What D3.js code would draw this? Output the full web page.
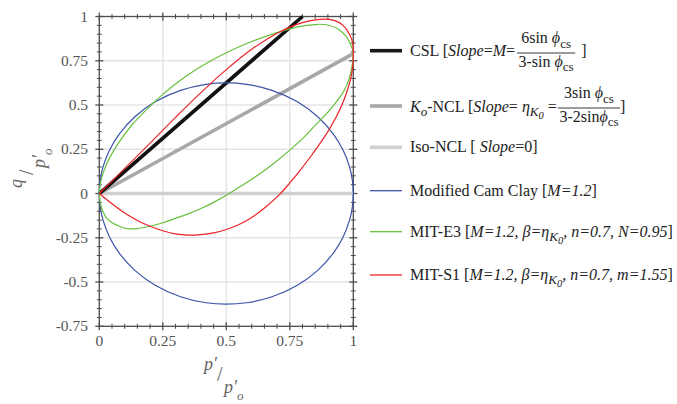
<!DOCTYPE html>
<html>
<head>
<meta charset="utf-8">
<script src="https://cdn.jsdelivr.net/npm/d3@7"></script>
<style>
  body { margin: 0; background: #fff; }
  svg text { font-family: "Liberation Serif", "DejaVu Serif", serif; white-space: pre; }
</style>
</head>
<body>
<svg id="svg"></svg>
<script>
// tick values and labels
const xTicks = [0, 0.25, 0.5, 0.75, 1];
const xTickLabels = ["0", "0.25", "0.5", "0.75", "1"];
const yTicks = [-0.75, -0.5, -0.25, 0, 0.25, 0.5, 0.75, 1];
const yTickLabels = ["-0.75", "-0.5", "-0.25", "0", "0.25", "0.5", "0.75", "1"];

// straight lines
const cslP = [0, 0.8];
const cslQ = [0, 1];
const k0P = [0, 1];
const k0Q = [0, 0.79];
const isoP = [0, 1];
const isoQ = [0, 0];

// Modified Cam Clay ellipse (going round)
const mccP = [0, 0.004, 0.015, 0.04, 0.08, 0.14, 0.22, 0.32, 0.42, 0.5, 0.58, 0.68, 0.78, 0.86, 0.92, 0.96, 0.985, 0.996,
              1, 0.996, 0.985, 0.96, 0.92, 0.86, 0.78, 0.68, 0.58, 0.5, 0.42, 0.32, 0.22, 0.14, 0.08, 0.04, 0.015, 0.004];
const mccQ = [0, 0.079, 0.152, 0.245, 0.339, 0.434, 0.518, 0.583, 0.617, 0.625, 0.617, 0.583, 0.518, 0.434, 0.339, 0.245, 0.152, 0.079,
              0, -0.079, -0.152, -0.245, -0.339, -0.434, -0.518, -0.583, -0.617, -0.625, -0.617, -0.583, -0.518, -0.434, -0.339, -0.245, -0.152, -0.079];

// MIT-E3 yield surface
const e3P = [0, 0.004, 0.015, 0.04, 0.08, 0.13, 0.19, 0.25, 0.31, 0.375, 0.44, 0.5, 0.56, 0.625, 0.69, 0.75, 0.81, 0.86, 0.9, 0.94, 0.97, 0.99,
             1, 0.995, 0.985, 0.965, 0.94, 0.9, 0.85, 0.8, 0.75, 0.7, 0.65, 0.6, 0.55, 0.5, 0.45, 0.4, 0.35, 0.3, 0.25, 0.2, 0.15, 0.11, 0.08, 0.05, 0.03, 0.015, 0.005];
const e3Q = [0, 0.055, 0.115, 0.2, 0.295, 0.39, 0.48, 0.56, 0.63, 0.695, 0.75, 0.795, 0.835, 0.872, 0.905, 0.93, 0.948, 0.956, 0.952, 0.93, 0.89, 0.84,
             0.79, 0.72, 0.655, 0.585, 0.53, 0.46, 0.385, 0.31, 0.245, 0.185, 0.13, 0.08, 0.035, -0.01, -0.05, -0.085, -0.115, -0.14, -0.165, -0.185, -0.198, -0.198, -0.185, -0.165, -0.14, -0.105, -0.06];

// MIT-S1 yield surface (corner at the origin)
const s1P = [0, 0.1, 0.2, 0.3, 0.4, 0.5, 0.6, 0.7, 0.75, 0.8, 0.85, 0.89, 0.93, 0.96, 0.985, 0.998, 1,
             0.998, 0.99, 0.975, 0.955, 0.93, 0.9, 0.865, 0.83, 0.79, 0.75, 0.71, 0.66, 0.6, 0.55, 0.5, 0.45, 0.4, 0.35, 0.3, 0.25, 0.2, 0.15, 0.1, 0.05, 0];
const s1Q = [0, 0.142, 0.285, 0.43, 0.57, 0.7, 0.815, 0.905, 0.94, 0.965, 0.981, 0.985, 0.975, 0.95, 0.9, 0.85, 0.79,
             0.72, 0.65, 0.575, 0.5, 0.425, 0.35, 0.275, 0.205, 0.13, 0.06, -0.005, -0.07, -0.135, -0.175, -0.203, -0.222, -0.232, -0.235, -0.228, -0.21, -0.185, -0.152, -0.11, -0.058, 0];

const zip = (a, b) => a.map((v, i) => [v, b[i]]);

const W = 677, H = 404;
const svg = d3.select("#svg").attr("width", W).attr("height", H);
svg.append("rect").attr("width", W).attr("height", H).attr("fill", "#fff");

const x = d3.scaleLinear().domain([0, 1]).range([99.3, 353.3]);
const y = d3.scaleLinear().domain([-0.75, 1]).range([326.3, 16.5]);

// grid
const grid = svg.append("g").attr("stroke", "#e4e4e4").attr("stroke-width", 1.4);
grid.selectAll(".gx").data(xTicks.slice(1, -1)).join("line")
    .attr("x1", d => x(d)).attr("x2", d => x(d)).attr("y1", y(1)).attr("y2", y(-0.75));
grid.selectAll(".gy").data(yTicks.slice(1, -1)).join("line")
    .attr("y1", d => y(d)).attr("y2", d => y(d)).attr("x1", x(0)).attr("x2", x(1));

// frame with ticks on all four sides
const frame = svg.append("g").attr("stroke", "#4d4d4d");
frame.append("rect").attr("x", x(0)).attr("y", y(1)).attr("width", x(1) - x(0)).attr("height", y(-0.75) - y(1))
    .attr("fill", "none").attr("stroke-width", 1.3);
const minorX = d3.range(0, 21).map(i => i / 20);
const minorY = d3.range(-15, 21).map(i => i / 20);
const isMajor = v => Math.abs(v * 4 - Math.round(v * 4)) < 1e-6;
[y(1), y(-0.75)].forEach(yy => {
  frame.append("g").selectAll("line").data(minorX).join("line")
      .attr("x1", d => x(d)).attr("x2", d => x(d))
      .attr("y1", d => yy - (isMajor(d) ? 4 : 2.5)).attr("y2", d => yy + (isMajor(d) ? 4 : 2.5))
      .attr("stroke-width", d => isMajor(d) ? 1.3 : 1);
});
[x(0), x(1)].forEach(xx => {
  frame.append("g").selectAll("line").data(minorY).join("line")
      .attr("y1", d => y(d)).attr("y2", d => y(d))
      .attr("x1", d => xx - (isMajor(d) ? 4 : 2.5)).attr("x2", d => xx + (isMajor(d) ? 4 : 2.5))
      .attr("stroke-width", d => isMajor(d) ? 1.3 : 1);
});

// tick labels
svg.append("g").selectAll("text").data(xTicks).join("text")
    .attr("x", d => x(d)).attr("y", 346).attr("text-anchor", "middle")
    .attr("font-size", 15.5).attr("fill", "#555").text((d, i) => xTickLabels[i]);
svg.append("g").selectAll("text").data(yTicks).join("text")
    .attr("x", 88).attr("y", d => y(d) + 5).attr("text-anchor", "end")
    .attr("font-size", 15.5).attr("fill", "#555").text((d, i) => yTickLabels[i]);

// axis titles (slanted fractions)
function slantFrac(g, top, bot, sub) {
  g.append("text").attr("x", 0).attr("y", 0).attr("font-size", 18).attr("font-style", "italic").text(top);
  g.append("text").attr("x", 13).attr("y", 11).attr("font-size", 20).text("/");
  g.append("text").attr("x", 20).attr("y", 23).attr("font-size", 18).attr("font-style", "italic").text(bot);
  g.append("text").attr("x", 33).attr("y", 30).attr("font-size", 13).attr("font-style", "italic").text(sub);
}
const xt = svg.append("g").attr("transform", "translate(204,370)").attr("fill", "#666");
slantFrac(xt, "p\u2032", "p\u2032", "o");
const yt = svg.append("g").attr("transform", "translate(22,188) rotate(-90)").attr("fill", "#666");
slantFrac(yt, "q", "p\u2032", "o");

// plotted lines
const line = d3.line().x(d => x(d[0])).y(d => y(d[1]));
const plot = svg.append("g").attr("fill", "none");
plot.append("path").datum(zip(isoP, isoQ)).attr("d", line).attr("stroke", "#d0d0d0").attr("stroke-width", 3.6);
plot.append("path").datum(zip(k0P, k0Q)).attr("d", line).attr("stroke", "#a8a8a8").attr("stroke-width", 3.6);
plot.append("path").datum(zip(cslP, cslQ)).attr("d", line).attr("stroke", "#111").attr("stroke-width", 3.6);

const closed = d3.line().x(d => x(d[0])).y(d => y(d[1])).curve(d3.curveCatmullRomClosed.alpha(0.5));
const open = d3.line().x(d => x(d[0])).y(d => y(d[1])).curve(d3.curveCatmullRom.alpha(0.5));
plot.append("path").datum(zip(mccP, mccQ)).attr("d", closed).attr("stroke", "#3b53a8").attr("stroke-width", 1.2);
plot.append("path").datum(zip(e3P, e3Q)).attr("d", closed).attr("stroke", "#68c03c").attr("stroke-width", 1.2);
plot.append("path").datum(zip(s1P, s1Q)).attr("d", open).attr("stroke", "#ec2227").attr("stroke-width", 1.2);

// legend
const ink = "#222";
const fs = 16;
function rich(parent, x0, y0, segs, size, anchor) {
  const t = parent.append("text").attr("x", x0).attr("y", y0).attr("font-size", size)
      .attr("fill", ink).attr("text-anchor", anchor || "start");
  let cur = 0;
  segs.forEach(s => {
    const lvl = s.sub || 0;
    const off = [0, 4.5, 7.5][lvl];
    t.append("tspan").attr("dy", off - cur).attr("font-size", size * [1, 0.82, 0.66][lvl])
        .attr("font-style", s.it ? "italic" : "normal").text(s.t);
    cur = off;
  });
  return t;
}
function frac(parent, x0, yBar, num, den) {
  const g = parent.append("g");
  const n = rich(g, 0, yBar - 10, num, fs, "start");
  const d = rich(g, 0, yBar + 13.5, den, fs, "start");
  const wn = n.node().getComputedTextLength(), wd = d.node().getComputedTextLength();
  const w = Math.max(wn, wd) + 3;
  n.attr("x", x0 + (w - wn) / 2);
  d.attr("x", x0 + (w - wd) / 2);
  g.append("line").attr("x1", x0).attr("x2", x0 + w).attr("y1", yBar).attr("y2", yBar)
      .attr("stroke", ink).attr("stroke-width", 0.9);
  return x0 + w;
}
const legendRows = [
  {y: 50.7, color: "#1a1a1a", w: 3.6},
  {y: 106, color: "#a8a8a8", w: 3.6},
  {y: 147.3, color: "#d0d0d0", w: 3.6},
  {y: 190.7, color: "#3b53a8", w: 1.3},
  {y: 231.7, color: "#68c03c", w: 1.3},
  {y: 275, color: "#ec2227", w: 1.3}
];
const leg = svg.append("g");
leg.selectAll("line").data(legendRows).join("line")
    .attr("x1", 370).attr("x2", 402).attr("y1", d => d.y).attr("y2", d => d.y)
    .attr("stroke", d => d.color).attr("stroke-width", d => d.w);

const phi = "\u03D5";
let t1 = rich(leg, 410, 55.5, [{t: "CSL ["}, {t: "Slope", it: 1}, {t: "="}, {t: "M", it: 1}, {t: "="}], fs);
let e1 = frac(leg, 410 + t1.node().getComputedTextLength() + 2, 53,
  [{t: "6sin "}, {t: phi, it: 1}, {t: "cs", sub: 1}], [{t: "3-sin "}, {t: phi, it: 1}, {t: "cs", sub: 1}]);
rich(leg, e1 + 2, 55.5, [{t: " ]"}], fs);

let t2 = rich(leg, 410, 111.5, [{t: "K", it: 1}, {t: "o", it: 1, sub: 1}, {t: "-NCL ["}, {t: "Slope", it: 1}, {t: "= "},
  {t: "\u03B7", it: 1}, {t: "K", it: 1, sub: 1}, {t: "0", it: 1, sub: 2}, {t: " =", sub: 0}], fs);
let e2 = frac(leg, 410 + t2.node().getComputedTextLength() + 1, 108,
  [{t: "3sin "}, {t: phi, it: 1}, {t: "cs", sub: 1}], [{t: "3-2sin"}, {t: phi, it: 1}, {t: "cs", sub: 1}]);
rich(leg, e2, 111.5, [{t: "]"}], fs);

rich(leg, 410, 152, [{t: "Iso-NCL [ "}, {t: "Slope", it: 1}, {t: "=0]"}], fs);
rich(leg, 410, 195.5, [{t: "Modified Cam Clay ["}, {t: "M=1.2", it: 1}, {t: "]"}], fs);
rich(leg, 410, 236.5, [{t: "MIT-E3 ["}, {t: "M=1.2, \u03B2=\u03B7", it: 1}, {t: "K", it: 1, sub: 1}, {t: "0", it: 1, sub: 2},
  {t: ", n=0.7, N=0.95", it: 1}, {t: "]"}], fs);
rich(leg, 410, 279.5, [{t: "MIT-S1 ["}, {t: "M=1.2, \u03B2=\u03B7", it: 1}, {t: "K", it: 1, sub: 1}, {t: "0", it: 1, sub: 2},
  {t: ", n=0.7, m=1.55", it: 1}, {t: "]"}], fs);
</script>
</body>
</html>
